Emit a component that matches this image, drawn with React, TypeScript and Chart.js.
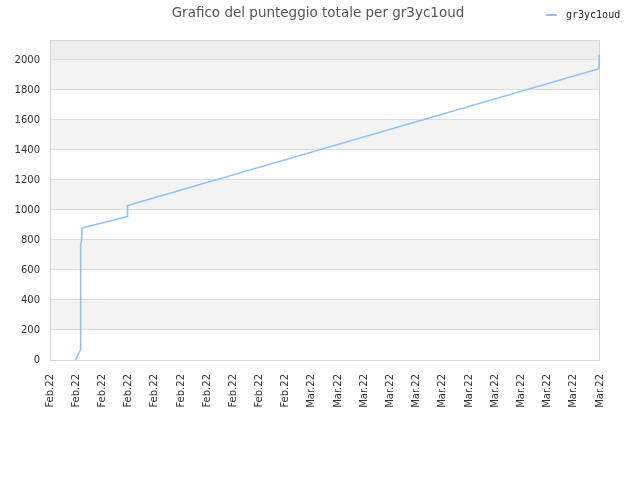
import { useEffect, useRef } from 'react';
import { Chart, registerables } from 'chart.js';

Chart.register(...registerables);

const title = 'Grafico del punteggio totale per gr3yc1oud';
const seriesName = 'gr3yc1oud';
const tickLabels = [
  'Feb.22', 'Feb.22', 'Feb.22', 'Feb.22', 'Feb.22', 'Feb.22', 'Feb.22', 'Feb.22', 'Feb.22', 'Feb.22',
  'Mar.22', 'Mar.22', 'Mar.22', 'Mar.22', 'Mar.22', 'Mar.22', 'Mar.22', 'Mar.22', 'Mar.22', 'Mar.22',
  'Mar.22', 'Mar.22',
];
// position along the time axis (in tick units) and total score
const xs = [0.98, 1.14, 1.17, 1.17, 1.2, 1.23, 2.93, 2.95, 2.96, 20.96, 20.97];
const ys = [0, 60, 70, 770, 790, 880, 955, 955, 1030, 1942, 2035];

const lineColor = '#8fc2f5';

const backdrop = {
  id: 'backdrop',
  beforeDraw(chart: any) {
    const { ctx, chartArea: a, scales } = chart;
    const y = scales.y;
    ctx.save();
    for (let v = 0; v < 2000; v += 200) {
      const top = y.getPixelForValue(v + 200);
      const bot = y.getPixelForValue(v);
      ctx.fillStyle = (v / 200) % 2 === 1 ? '#f3f3f3' : '#ffffff';
      ctx.fillRect(a.left, top, a.right - a.left, bot - top);
    }
    const t2000 = y.getPixelForValue(2000);
    ctx.fillStyle = '#eeeeee';
    ctx.fillRect(a.left, a.top, a.right - a.left, t2000 - a.top);
    ctx.restore();
  },
  beforeDatasetsDraw(chart: any) {
    const { ctx, chartArea: a } = chart;
    ctx.save();
    ctx.strokeStyle = '#d6d6d6';
    ctx.lineWidth = 1;
    ctx.strokeRect(a.left + 0.5, a.top + 0.5, a.right - a.left - 1, a.bottom - a.top);
    ctx.restore();
  },
  afterDraw(chart: any) {
    const { ctx } = chart;
    ctx.save();
    // title
    ctx.fillStyle = '#555555';
    ctx.font = '13.5px "DejaVu Sans"';
    ctx.textAlign = 'center';
    ctx.textBaseline = 'middle';
    ctx.fillText(title, 318, 13);
    // legend
    ctx.strokeStyle = lineColor;
    ctx.lineWidth = 2;
    ctx.beginPath();
    ctx.moveTo(546, 15);
    ctx.lineTo(557, 15);
    ctx.stroke();
    ctx.fillStyle = '#222222';
    ctx.font = '10px "DejaVu Sans Mono"';
    ctx.textAlign = 'left';
    ctx.fillText(chart.data.datasets[0].label, 566, 15);
    ctx.restore();
  },
};

export default function App() {
  const canvas = useRef<HTMLCanvasElement | null>(null);

  useEffect(() => {
    if (!canvas.current) return;
    document.body.style.margin = '0';

    const chart = new Chart(canvas.current, {
      type: 'line',
      data: {
        datasets: [
          {
            label: seriesName,
            data: xs.map((x, i) => ({ x, y: ys[i] })),
            borderColor: lineColor,
            backgroundColor: lineColor,
            borderWidth: 1.6,
            pointRadius: 0,
            tension: 0,
            fill: false,
          },
        ],
      },
      options: {
        animation: false,
        responsive: false,
        devicePixelRatio: 1,
        layout: { padding: { top: 40, right: 40, left: 0, bottom: 0 } },
        plugins: {
          legend: { display: false },
          title: { display: false },
          tooltip: { enabled: false },
        },
        scales: {
          x: {
            type: 'linear',
            min: 0,
            max: 21,
            afterFit: (s: any) => {
              s.height = 120;
            },
            afterBuildTicks: (s: any) => {
              s.ticks = tickLabels.map((_, i) => ({ value: i }));
            },
            grid: { display: false },
            border: { display: false },
            ticks: {
              font: { family: 'DejaVu Sans', size: 10 },
              color: '#333333',
              minRotation: 90,
              maxRotation: 90,
              padding: 6,
              autoSkip: false,
              callback: (v: any) => tickLabels[v] ?? '',
            },
          },
          y: {
            min: 0,
            max: 2133,
            afterFit: (s: any) => {
              s.width = 50;
            },
            afterBuildTicks: (s: any) => {
              s.ticks = s.ticks.filter((t: any) => t.value % 200 === 0);
            },
            grid: { color: '#dedede', drawTicks: false },
            border: { display: false },
            ticks: {
              stepSize: 200,
              font: { family: 'DejaVu Sans', size: 10 },
              color: '#333333',
              padding: 10,
              callback: (v: any) => String(v),
            },
          },
        },
      },
      plugins: [backdrop],
    });

    return () => chart.destroy();
  }, [canvas]);

  return (
    <div style={{ width: 640, height: 480 }}>
      <canvas ref={canvas} width={640} height={480}></canvas>
    </div>
  );
}
